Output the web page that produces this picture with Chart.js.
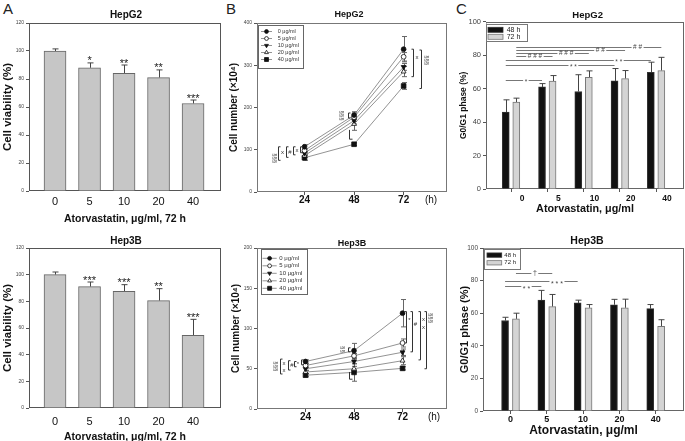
<!DOCTYPE html>
<html lang="en">
<head>
<meta charset="UTF-8">
<title>Atorvastatin – HepG2 / Hep3B</title>
<script src="https://cdn.jsdelivr.net/npm/chart.js"></script>
<style>
  html, body { margin: 0; padding: 0; background: #fff; }
  body { position: relative; width: 685px; height: 441px; overflow: hidden; font-family: Arial, "Liberation Sans", sans-serif; }
  canvas { position: absolute; }
  .tag { position: absolute; font-size: 15px; line-height: 1; color: #222; }
</style>
</head>
<body>
  <div class="tag" style="left:3px;top:1px">A</div>
  <div class="tag" style="left:226px;top:1px">B</div>
  <div class="tag" style="left:456px;top:1px">C</div>
  <canvas id="a1" width="228" height="230" style="left:0;top:0"></canvas>
  <canvas id="a2" width="228" height="226" style="left:0;top:222px"></canvas>
  <canvas id="b1" width="227" height="230" style="left:228px;top:0"></canvas>
  <canvas id="b2" width="227" height="219" style="left:228px;top:222px"></canvas>
  <canvas id="c1" width="230" height="230" style="left:455px;top:0"></canvas>
  <canvas id="c2" width="230" height="219" style="left:455px;top:222px"></canvas>
<script>
// ---- data ----
const doses = ['0', '5', '10', '20', '40'];

// A: cell viability after 72 h (%)
const viaG2 = [100, 88, 84, 81, 62.5];
const viaG2Err = [1.5, 3.5, 6, 5.5, 2.5];
const viaG2Sig = ['', '*', '**', '**', '***'];
const via3B = [100, 91, 87.5, 80.5, 54.5];
const via3BErr = [2, 3.5, 5, 9, 12];
const via3BSig = ['', '***', '***', '**', '***'];

// B: cell number (x10^4)
const hours = [24, 48, 72];
const concLabels = ['0 μg/ml', '5 μg/ml', '10 μg/ml', '20 μg/ml', '40 μg/ml'];
const g2c0 = [107, 182, 338],  g2c0Err = [5, 8, 30];
const g2c5 = [98, 177, 320],   g2c5Err = [4, 10, 10];
const g2c10 = [92, 169, 296],  g2c10Err = [4, 8, 8];
const g2c20 = [86, 161, 285],  g2c20Err = [4, 15, 12];
const g2c40 = [81, 113, 251],  g2c40Err = [6, 3, 8];
const h3c0 = [59, 72.5, 119],  h3c0Err = [2, 9, 17];
const h3c5 = [54, 66, 82],     h3c5Err = [2, 3, 5];
const h3c10 = [50, 59, 70.5],  h3c10Err = [2, 3, 4];
const h3c20 = [46, 50, 60],    h3c20Err = [2, 3, 5];
const h3c40 = [42, 45.5, 50.5], h3c40Err = [2, 11, 2];

// C: G0/G1 phase (%)
const phaseLabels = ['48 h', '72 h'];
const g1G2_48 = [46, 61, 58.3, 64.6, 69.8],  g1G2_48Err = [7.3, 2, 10, 7.4, 6];
const g1G2_72 = [52, 64.5, 66.8, 66, 70.8],  g1G2_72Err = [2.3, 3.3, 3.8, 4.8, 7.9];
const g1H3_48 = [55.5, 68, 66.3, 65.2, 62.8], g1H3_48Err = [2, 6, 1.7, 3.3, 2.5];
const g1H3_72 = [56.5, 64, 63.3, 63.3, 52],   g1H3_72Err = [3.5, 7.5, 2, 5.3, 4];

// ---- drawing helpers ----
const FONT = 'Arial, "Liberation Sans", sans-serif';
Chart.defaults.font.family = FONT;
Chart.defaults.color = '#111';
const extras = {};

function txt(ctx, s, x, y, size, o = {}) {
  ctx.save();
  ctx.font = (o.bold ? 'bold ' : '') + size + 'px ' + FONT;
  ctx.fillStyle = o.color || '#111';
  ctx.textAlign = o.align || 'center';
  ctx.textBaseline = 'middle';
  ctx.translate(x, y);
  if (o.rot) ctx.rotate(o.rot);
  ctx.fillText(s, 0, 0);
  ctx.restore();
}

function drawMarker(ctx, ds, x, y, r) {
  ctx.save();
  ctx.fillStyle = ds.pointBackgroundColor;
  ctx.strokeStyle = ds.pointBorderColor;
  ctx.lineWidth = 0.8;
  ctx.beginPath();
  if (ds.pointStyle === 'circle') ctx.arc(x, y, r, 0, Math.PI * 2);
  else if (ds.pointStyle === 'rect') { const s = r * 0.75; ctx.rect(x - s, y - s, 2 * s, 2 * s); }
  else {
    const d = ds.pointRotation ? -1 : 1;
    ctx.moveTo(x, y - d * r);
    ctx.lineTo(x + r * 0.87, y + d * r * 0.5);
    ctx.lineTo(x - r * 0.87, y + d * r * 0.5);
    ctx.closePath();
  }
  ctx.fill(); ctx.stroke();
  ctx.restore();
}

function bracket(ctx, xs, ys, b) {
  const x = Math.round(xs.getPixelForValue(b.at) + b.dx) + 0.5;
  const y1 = ys.getPixelForValue(b.y1), y2 = ys.getPixelForValue(b.y2);
  ctx.beginPath();
  if (b.noTop) ctx.moveTo(x, y1);
  else { ctx.moveTo(x + b.arm, y1); ctx.lineTo(x, y1); }
  ctx.lineTo(x, y2);
  ctx.lineTo(x + b.arm, y2);
  ctx.stroke();
  (b.labels || []).forEach(l => {
    const yy = ys.getPixelForValue(l.y) + (l.t.includes('*') ? 1.5 : 0);
    txt(ctx, l.t, x + l.dx, yy, 6, { color: '#333', rot: l.rot ? Math.PI / 2 : 0 });
  });
}

function sigLine(ctx, xs, ys, s, size) {
  const x1 = xs.getPixelForValue(s.x1), x2 = xs.getPixelForValue(s.x2);
  const y = Math.round(ys.getPixelForValue(s.y)) + 0.5;
  const tx = xs.getPixelForValue(s.tx);
  ctx.font = size + 'px ' + FONT;
  const w = ctx.measureText(s.t).width + 3;
  ctx.beginPath();
  ctx.moveTo(x1, y); ctx.lineTo(tx - w / 2, y);
  ctx.moveTo(tx + w / 2, y); ctx.lineTo(x2, y);
  ctx.stroke();
  txt(ctx, s.t, tx, y + (s.t.includes('*') ? size * 0.3 : 0), size, { color: '#444' });
}

const panelPlugin = {
  id: 'panel',
  beforeDatasetsDraw(chart) {
    const ex = extras[chart.canvas.id];
    const ctx = chart.ctx, a = chart.chartArea, ys = chart.scales.y;
    ctx.save();
    ctx.strokeStyle = ex.frame; ctx.lineWidth = 1;
    ctx.strokeRect(Math.round(a.left) + 0.5, Math.round(a.top) + 0.5,
                   Math.round(a.right - a.left) - 1, Math.round(a.bottom - a.top) - 1);
    ctx.strokeStyle = ex.errColor;
    chart.data.datasets.forEach((ds, di) => {
      if (!ds.err) return;
      chart.getDatasetMeta(di).data.forEach((el, i) => {
        const v = ds.data[i].y, e = ds.err[i];
        const x = Math.round(el.x) + 0.5;
        const yt = ys.getPixelForValue(v + e);
        const yb = ex.errBoth ? ys.getPixelForValue(v - e) : el.y;
        ctx.beginPath();
        ctx.moveTo(x, yt); ctx.lineTo(x, yb);
        ctx.moveTo(x - ex.cap, yt); ctx.lineTo(x + ex.cap, yt);
        if (ex.errBoth) { ctx.moveTo(x - ex.cap, yb); ctx.lineTo(x + ex.cap, yb); }
        ctx.stroke();
      });
    });
    ctx.restore();
  },
  afterDatasetsDraw(chart) {
    const ex = extras[chart.canvas.id];
    const ctx = chart.ctx, xs = chart.scales.x, ys = chart.scales.y;
    ctx.save();
    txt(ctx, ex.title.t, ex.title.x, ex.title.y, ex.title.size, { bold: true });
    if (ex.unit) txt(ctx, ex.unit.t, ex.unit.x, ex.unit.y, ex.unit.size);

    if (ex.stars) {
      const ds = chart.data.datasets[0];
      chart.getDatasetMeta(0).data.forEach((el, i) => {
        if (!ex.stars[i]) return;
        const top = ys.getPixelForValue(ds.data[i].y + ds.err[i]);
        ctx.font = '11px ' + FONT; ctx.fillStyle = '#222';
        ctx.textAlign = 'center'; ctx.textBaseline = 'alphabetic';
        ctx.fillText(ex.stars[i], el.x, top + 1.5);
      });
    }

    if (ex.brackets) {
      ctx.strokeStyle = '#333'; ctx.lineWidth = 1;
      ex.brackets.forEach(b => bracket(ctx, xs, ys, b));
    }

    if (ex.sig) {
      ctx.strokeStyle = '#777'; ctx.lineWidth = 1;
      ex.sig.forEach(s => sigLine(ctx, xs, ys, s, ex.sigSize));
    }

    if (ex.legend) {
      const L = ex.legend;
      ctx.fillStyle = '#fff'; ctx.fillRect(L.x, L.y, L.w, L.h);
      ctx.strokeStyle = '#666'; ctx.lineWidth = 1;
      ctx.strokeRect(Math.round(L.x) + 0.5, Math.round(L.y) + 0.5, Math.round(L.w), Math.round(L.h));
      chart.data.datasets.forEach((ds, i) => {
        const y = L.y0 + i * L.dy;
        ctx.strokeStyle = ds.borderColor; ctx.lineWidth = 0.8;
        ctx.beginPath(); ctx.moveTo(L.lx0, y); ctx.lineTo(L.lx1, y); ctx.stroke();
        drawMarker(ctx, ds, (L.lx0 + L.lx1) / 2, y, ds.pointRadius * 0.8);
        txt(ctx, ds.label, L.tx, y, L.size, { align: 'left', color: '#333' });
      });
    }

    if (ex.barLegend) {
      const L = ex.barLegend;
      ctx.fillStyle = '#fff'; ctx.fillRect(L.x, L.y, L.w, L.h);
      ctx.strokeStyle = '#777'; ctx.lineWidth = 1;
      ctx.strokeRect(Math.round(L.x) + 0.5, Math.round(L.y) + 0.5, Math.round(L.w), Math.round(L.h));
      chart.data.datasets.forEach((ds, i) => {
        const y = L.y0 + i * L.dy;
        ctx.fillStyle = ds.backgroundColor;
        ctx.fillRect(L.sx, y - L.sh / 2, L.sw, L.sh);
        ctx.strokeStyle = ds.borderColor; ctx.lineWidth = 0.8;
        ctx.strokeRect(L.sx, y - L.sh / 2, L.sw, L.sh);
        txt(ctx, ds.label, L.tx, y, L.size, { align: 'left', color: '#222' });
      });
    }
    ctx.restore();
  }
};

function build(id, type, datasets, L, ex) {
  extras[id] = ex;
  return new Chart(document.getElementById(id), {
    type,
    data: { datasets },
    plugins: [panelPlugin],
    options: {
      responsive: false,
      animation: false,
      events: [],
      layout: { padding: { left: L.pl, right: L.pr, top: L.pt, bottom: L.pb } },
      plugins: { legend: { display: false }, tooltip: { enabled: false }, title: { display: false } },
      scales: {
        x: {
          type: 'linear', min: L.xMin, max: L.xMax, offset: false,
          afterBuildTicks: s => { s.ticks = L.xTicks.map(v => ({ value: v })); },
          afterFit: s => { s.height = L.xH; },
          grid: { display: L.xTl > 0, drawOnChartArea: false, drawTicks: L.xTl > 0,
                  tickLength: L.xTl, color: '#555', offset: false },
          border: { display: false },
          ticks: { padding: L.xPad, labelOffset: L.labelOffset || 0, maxRotation: 0, autoSkip: false,
                   font: L.xFont, color: '#111', callback: L.xLabel },
          title: L.xTitle
            ? { display: true, text: L.xTitle, font: L.xTitleFont, padding: 0, color: '#111' }
            : { display: false }
        },
        y: {
          min: 0, max: L.yMax,
          afterFit: s => { s.width = L.yW; },
          grid: { drawOnChartArea: false, drawTicks: true, tickLength: 3, color: '#555' },
          border: { display: false },
          ticks: { stepSize: L.yStep, padding: 2, font: L.yFont, color: '#444' },
          title: { display: true, text: L.yTitle, font: L.yTitleFont, padding: 0, color: '#111' }
        }
      }
    }
  });
}

// ---- A: viability bars ----
function viaSet(vals, errs) {
  return [{
    data: vals.map((v, i) => ({ x: i, y: v })),
    err: errs,
    backgroundColor: '#c6c6c6', borderColor: '#666', borderWidth: 1, barThickness: 22
  }];
}
const layA = {
  pl: 0.6, pr: 7, yW: 28.4, xMin: -0.754, xMax: 4.81, xTicks: [0, 1, 2, 3, 4], xTl: 0,
  xFont: { size: 11, lineHeight: 1 }, xLabel: v => doses[v],
  xTitle: 'Atorvastatin, μg/ml, 72 h', xTitleFont: { size: 10.5, weight: 'bold', lineHeight: 1.2 },
  yMax: 120, yStep: 20, yFont: { size: 5, lineHeight: 1 },
  yTitle: 'Cell viability (%)', yTitleFont: { size: 11.5, weight: 'bold', lineHeight: 1.2 }
};
build('a1', 'bar', viaSet(viaG2, viaG2Err), { ...layA, pt: 23, pb: 4.7, xH: 34.3, xPad: 5.5 },
  { frame: '#555', errColor: '#444', cap: 3, errBoth: false, stars: viaG2Sig,
    title: { t: 'HepG2', x: 126, y: 15, size: 10 } });
build('a2', 'bar', viaSet(via3B, via3BErr), { ...layA, pt: 26, pb: 4.7, xH: 35.3, xPad: 8.2 },
  { frame: '#555', errColor: '#444', cap: 3, errBoth: false, stars: via3BSig,
    title: { t: 'Hep3B', x: 126, y: 19.7, size: 10 } });

// ---- B: growth curves ----
const markerStyles = [
  { pointStyle: 'circle', pointRotation: 0, pointRadius: 2.4, fill: '#111' },
  { pointStyle: 'circle', pointRotation: 0, pointRadius: 2.4, fill: '#fff' },
  { pointStyle: 'triangle', pointRotation: 180, pointRadius: 2.8, fill: '#111' },
  { pointStyle: 'triangle', pointRotation: 0, pointRadius: 2.8, fill: '#fff' },
  { pointStyle: 'rect', pointRotation: 0, pointRadius: 3.3, fill: '#111' }
];
function growSets(series, errs) {
  return series.map((vals, k) => ({
    label: concLabels[k],
    data: vals.map((v, i) => ({ x: hours[i], y: v })),
    err: errs[k],
    borderColor: '#777', borderWidth: 0.8, tension: 0,
    pointStyle: markerStyles[k].pointStyle, pointRotation: markerStyles[k].pointRotation,
    pointRadius: markerStyles[k].pointRadius, pointBorderWidth: 0.8,
    pointBackgroundColor: markerStyles[k].fill, pointBorderColor: '#111'
  }));
}
const layB = {
  pr: 8, xTicks: hours, xTl: 3, xFont: { size: 10, weight: 'bold', lineHeight: 1 }, xLabel: v => String(v),
  yFont: { size: 5, lineHeight: 1 }, yTitle: 'Cell number (×10⁴)',
  yTitleFont: { size: 10, weight: 'bold', lineHeight: 1.2 }
};
build('b1', 'line',
  growSets([g2c0, g2c5, g2c10, g2c20, g2c40], [g2c0Err, g2c5Err, g2c10Err, g2c20Err, g2c40Err]),
  { ...layB, pl: 0, yW: 29, pt: 23, pb: 0, xH: 38, xPad: 0, xMin: 1, xMax: 93, yMax: 400, yStep: 100 },
  { frame: '#777', errColor: '#666', cap: 2.5, errBoth: true,
    title: { t: 'HepG2', x: 121, y: 15, size: 9 }, unit: { t: '(h)', x: 203, y: 200, size: 10 },
    legend: { x: 30, y: 24.5, w: 45, h: 42.5, y0: 31.5, dy: 7, lx0: 33, lx1: 44, tx: 49.7, size: 5.5 },
    brackets: [
      { at: 24, dx: -27, y1: 107, y2: 75, arm: 2, labels: [{ t: 'x', dx: 4, y: 93 }, { t: '§§§', dx: -4, y: 80, rot: true }] },
      { at: 24, dx: -19, y1: 107, y2: 82, arm: 2, labels: [{ t: '#', dx: 3.5, y: 95 }] },
      { at: 24, dx: -12, y1: 107, y2: 88, arm: 2, labels: [{ t: 'x', dx: 3.5, y: 98 }] },
      { at: 24, dx: -5, y1: 107, y2: 93, arm: 2 },
      { at: 48, dx: -6, y1: 187, y2: 175, arm: 2, labels: [{ t: '§§§', dx: -7, y: 181, rot: true }] },
      { at: 48, dx: -5, y1: 147, y2: 125, arm: 3, noTop: true },
      { at: 72, dx: 9, y1: 338, y2: 273, arm: -2, labels: [{ t: 'x', dx: 3.5, y: 318 }] },
      { at: 72, dx: 17, y1: 336, y2: 245, arm: -2, labels: [{ t: '§§§', dx: 5, y: 312, rot: true }] }
    ] });
build('b2', 'line',
  growSets([h3c0, h3c5, h3c10, h3c20, h3c40], [h3c0Err, h3c5Err, h3c10Err, h3c20Err, h3c40Err]),
  { ...layB, pl: 2, yW: 27, pt: 26, pb: 0, xH: 32, xPad: 0.3, xMin: 0, xMax: 94, yMax: 200, yStep: 50 },
  { frame: '#777', errColor: '#666', cap: 2.5, errBoth: true,
    title: { t: 'Hep3B', x: 124, y: 21.3, size: 9 }, unit: { t: '(h)', x: 206, y: 195.3, size: 10 },
    legend: { x: 32.7, y: 27.3, w: 46.3, h: 45, y0: 36.3, dy: 7.5, lx0: 34.5, lx1: 48.7, tx: 51.3, size: 6 },
    brackets: [
      { at: 24, dx: -26, y1: 62, y2: 43.5, arm: 2,
        labels: [{ t: 'x', dx: 3.5, y: 57 }, { t: 'x', dx: 3.5, y: 48 }, { t: '§§§', dx: -5, y: 53, rot: true }] },
      { at: 24, dx: -18, y1: 60, y2: 48.4, arm: 2, labels: [{ t: '#', dx: 3.5, y: 54 }] },
      { at: 24, dx: -12, y1: 59, y2: 52.5, arm: 2, labels: [{ t: '*', dx: 3.5, y: 57 }] },
      { at: 24, dx: -5, y1: 61, y2: 55, arm: 2 },
      { at: 48, dx: -6, y1: 76, y2: 71, arm: 2, labels: [{ t: '§§', dx: -6, y: 74, rot: true }] },
      { at: 48, dx: -5, y1: 46, y2: 37, arm: 3, noTop: true },
      { at: 72, dx: 3, y1: 121, y2: 82, arm: -2, labels: [{ t: '*', dx: 3, y: 112 }] },
      { at: 72, dx: 9, y1: 121, y2: 71, arm: -2, labels: [{ t: '#', dx: 3, y: 105 }] },
      { at: 72, dx: 17, y1: 121, y2: 61, arm: -2, labels: [{ t: 'x', dx: 3, y: 111 }, { t: 'x', dx: 3, y: 102 }] },
      { at: 72, dx: 23, y1: 121, y2: 50, arm: -2, labels: [{ t: '§§§', dx: 4.5, y: 113, rot: true }] }
    ] });

// ---- C: G0/G1 bars ----
function phaseSets(v48, e48, v72, e72, off) {
  return [
    { label: phaseLabels[0], data: v48.map((v, i) => ({ x: i - off, y: v })), err: e48,
      backgroundColor: '#111', borderColor: '#333', borderWidth: 1, barThickness: 7, grouped: false },
    { label: phaseLabels[1], data: v72.map((v, i) => ({ x: i + off, y: v })), err: e72,
      backgroundColor: '#d4d4d4', borderColor: '#777', borderWidth: 1, barThickness: 7, grouped: false }
  ];
}
const layC = {
  pr: 1, xTicks: [0, 1, 2, 3, 4], xTl: 3, xLabel: v => doses[v], xTitle: 'Atorvastatin, μg/ml',
  yMax: 100, yStep: 20, yTitle: 'G0/G1 phase (%)'
};
const oC1 = 0.145, oC2 = 0.15;
build('c1', 'bar', phaseSets(g1G2_48, g1G2_48Err, g1G2_72, g1G2_72Err, oC1),
  { ...layC, pl: 3.4, yW: 27.6, pt: 21.7, pb: 14.2, xH: 26.8, xPad: 2.45, labelOffset: 11,
    xMin: -0.69, xMax: 4.77, xFont: { size: 8.5, weight: 'bold', lineHeight: 1 },
    xTitleFont: { size: 10.8, weight: 'bold', lineHeight: 1.2 },
    yFont: { size: 7.5, lineHeight: 1 }, yTitleFont: { size: 8.5, weight: 'bold', lineHeight: 1.2 } },
  { frame: '#666', errColor: '#444', cap: 3, errBoth: false,
    title: { t: 'HepG2', x: 132.6, y: 15, size: 9.5 },
    barLegend: { x: 31, y: 23.5, w: 41, h: 17, sx: 33, sw: 15, sh: 5, y0: 29.8, dy: 7, tx: 51.7, size: 7 },
    sigSize: 6.5,
    sig: [
      { x1: oC1, x2: 4 + oC1, y: 84.7, t: '# #', tx: 3.49 },
      { x1: oC1, x2: 3 + oC1, y: 83.3, t: '# #', tx: 2.46 },
      { x1: oC1, x2: 2 + oC1, y: 81.5, t: '# # #', tx: 1.52 },
      { x1: oC1, x2: 1 + oC1, y: 79.3, t: '# # #', tx: 0.66 },
      { x1: -oC1, x2: 4 - oC1, y: 77.3, t: '* *', tx: 2.97 },
      { x1: -oC1, x2: 3 - oC1, y: 74.3, t: '* *', tx: 1.72 },
      { x1: -oC1, x2: 1 - oC1, y: 65, t: '*', tx: 0.41 }
    ] });
build('c2', 'bar', phaseSets(g1H3_48, g1H3_48Err, g1H3_72, g1H3_72Err, oC2),
  { ...layC, pl: 3.4, yW: 24.6, pt: 26, pb: 3.1, xH: 26.9, xPad: 0.8, labelOffset: 0,
    xMin: -0.758, xMax: 4.78, xFont: { size: 9, weight: 'bold', lineHeight: 1 },
    xTitleFont: { size: 12, weight: 'bold', lineHeight: 1.2 },
    yFont: { size: 6.5, lineHeight: 1 }, yTitleFont: { size: 11, weight: 'bold', lineHeight: 1.2 } },
  { frame: '#666', errColor: '#444', cap: 3, errBoth: false,
    title: { t: 'Hep3B', x: 132, y: 18.7, size: 10.5 },
    barLegend: { x: 29, y: 26.7, w: 36, h: 19.6, sx: 32, sw: 14.7, sh: 4.3, y0: 33.1, dy: 7.7, tx: 49.3, size: 6 },
    sigSize: 7,
    sig: [
      { x1: oC2, x2: 1 + oC2, y: 84.5, t: '†', tx: 0.67 },
      { x1: -oC2, x2: 2 - oC2, y: 80, t: '* * *', tx: 1.28 },
      { x1: -oC2, x2: 1 - oC2, y: 76.7, t: '* *', tx: 0.44 }
    ] });
</script>
</body>
</html>
